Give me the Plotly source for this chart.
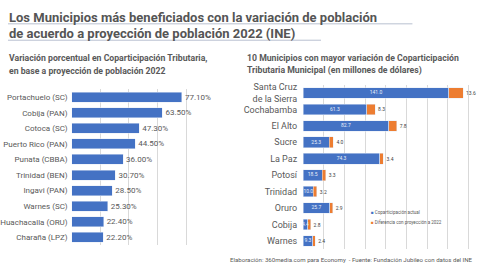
import plotly.graph_objects as go

W, H = 480, 270

# Left panel data
left_cats = ["Portachuelo (SC)", "Cobija (PAN)", "Cotoca (SC)", "Puerto Rico (PAN)",
             "Punata (CBBA)", "Trinidad (BEN)", "Ingavi (PAN)", "Warnes (SC)",
             "Huachacalla (ORU)", "Charaña (LPZ)"]
left_vals = [77.1, 63.5, 47.3, 44.5, 36.0, 30.7, 28.5, 25.3, 22.4, 22.2]

# Right panel data
right_cats = ["Santa Cruz<br>de la Sierra", "Cochabamba", "El Alto", "Sucre", "La Paz",
              "Potosí", "Trinidad", "Oruro", "Cobija", "Warnes"]
actual = [141.0, 61.3, 82.7, 25.3, 74.3, 18.5, 10.0, 25.7, 4.4, 9.3]
diff = [13.6, 8.3, 7.8, 4.0, 3.4, 3.3, 3.2, 2.9, 2.8, 2.4]
series_names = ["Coparticipación actual", "Diferencia con proyección a 2022"]

BLUE = "#4472C4"
ORANGE = "#ED7D31"
GRAY = "#595959"
FONT = "Roboto"

def px(x):
    return x / W

def py(y):
    return 1 - y / H

fig = go.Figure()

fig.add_trace(go.Bar(
    x=left_vals, y=left_cats, orientation="h", marker_color=BLUE, width=0.64,
    texttemplate="%{x:.2f}%", textposition="outside", cliponaxis=False,
    textfont=dict(size=8, color=GRAY, family=FONT),
    xaxis="x", yaxis="y", showlegend=False, hoverinfo="skip"))

fig.add_trace(go.Bar(
    x=actual, y=right_cats, orientation="h", marker_color=BLUE, width=0.65,
    name=series_names[0],
    xaxis="x2", yaxis="y2", showlegend=False, hoverinfo="skip"))

fig.add_trace(go.Bar(
    x=diff, y=right_cats, orientation="h", marker_color=ORANGE, width=0.65,
    name=series_names[1],
    texttemplate="%{x:.1f}", textposition="outside", textangle=0, constraintext="none",
    textfont=dict(size=5, color="#404040", family=FONT), cliponaxis=False,
    xaxis="x2", yaxis="y2", showlegend=False, hoverinfo="skip"))

# centred value labels inside the blue bars
fig.add_trace(go.Scatter(
    x=[a / 2 for a in actual], y=right_cats, mode="text",
    text=["%.1f" % a for a in actual], textposition="middle center",
    textfont=dict(size=5, color="#e8eefa", family=FONT), cliponaxis=False,
    xaxis="x2", yaxis="y2", showlegend=False, hoverinfo="skip"))

grid = dict(showgrid=True, gridcolor="#d9d9d9", gridwidth=1, zeroline=False,
            showticklabels=False, ticks="", showline=False, fixedrange=True)

annotations = []
def ann(text, x, y, size, bold=False, xanchor="left", color=GRAY):
    annotations.append(dict(
        text=("<b>%s</b>" % text) if bold else text, x=px(x), y=py(y),
        xref="paper", yref="paper", xanchor=xanchor, yanchor="middle",
        showarrow=False, font=dict(size=size, color=color, family=FONT)))

ann("Los Municipios más beneficiados con la variación de población", 4, 15.5, 13, bold=True, color="#555555")
ann("de acuerdo a proyección de población 2022 (INE)", 4, 32, 13, bold=True, color="#555555")
ann("Variación porcentual en Coparticipación Tributaria,", 4, 56, 8.7, bold=True)
ann("en base a proyección de población 2022", 4, 69.5, 8.7, bold=True)
ann("10 Municipios con mayor variación de Coparticipación", 244, 56, 8.7, bold=True)
ann("Tributaria Municipal (en millones de dólares)", 244, 69.5, 8.7, bold=True)
ann("Elaboración: 360media.com para Economy  - Fuente: Fundación Jubileo con datos del INE",
    226, 259, 6.1)

# legend
colors = [BLUE, ORANGE]
for i, (nm, c) in enumerate(zip(series_names, colors)):
    annotations.append(dict(
        text="<span style='color:%s'>■</span> %s" % (c, nm), x=px(368), y=py(212.5 + 9.5 * i),
        xref="paper", yref="paper", xanchor="left", yanchor="middle", showarrow=False,
        font=dict(size=4.5, color=GRAY, family=FONT)))

# faint underlines beneath the title lines
shapes = [
    dict(type="line", xref="paper", yref="paper", x0=px(5), x1=px(412), y0=py(22), y1=py(22),
         line=dict(color="#b8c0d0", width=1)),
    dict(type="line", xref="paper", yref="paper", x0=px(5), x1=px(320), y0=py(38.5), y1=py(38.5),
         line=dict(color="#b8c0d0", width=1)),
]

fig.update_layout(
    width=W, height=H, margin=dict(l=0, r=0, t=0, b=0),
    paper_bgcolor="white", plot_bgcolor="white",
    barmode="stack", bargap=0.36,
    font=dict(family=FONT, color=GRAY),
    xaxis=dict(domain=[px(69), px(213)], range=[0, 100], dtick=20, **grid),
    yaxis=dict(domain=[py(245), py(88)], autorange="reversed", showgrid=False,
               ticks="", ticklabelstandoff=3, tickfont=dict(size=8, color=GRAY, family=FONT),
               fixedrange=True, anchor="x"),
    xaxis2=dict(domain=[px(302), 1.0], range=[0, 171], dtick=20, anchor="y2", **grid),
    yaxis2=dict(domain=[py(249), py(83.4)], autorange="reversed", showgrid=False,
                ticks="", ticklabelstandoff=5, tickfont=dict(size=9, color=GRAY, family=FONT),
                fixedrange=True, anchor="x2"),
    annotations=annotations,
    shapes=shapes,
    showlegend=False,
)

fig.write_html("out.html")
